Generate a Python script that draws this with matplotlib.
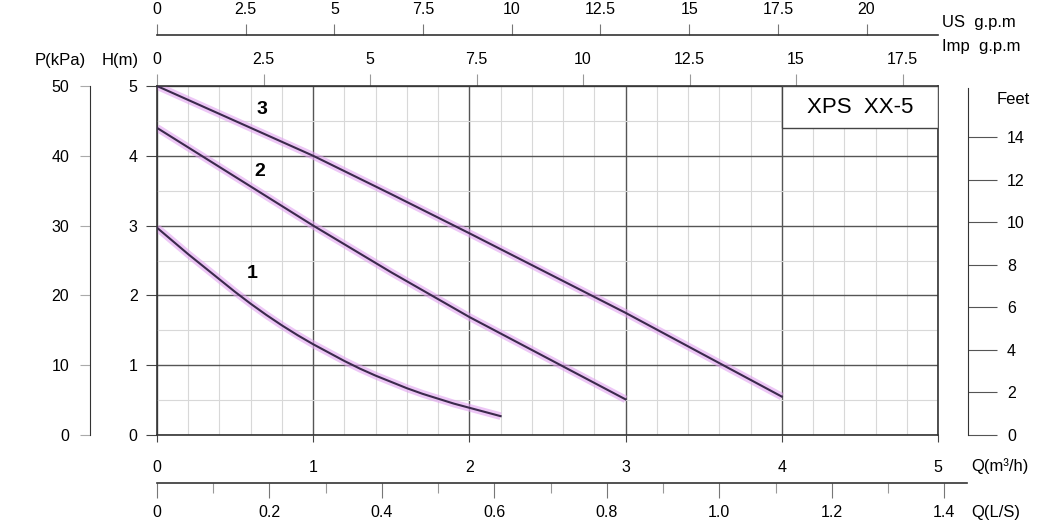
import matplotlib
matplotlib.use("Agg")
import matplotlib.pyplot as plt
import matplotlib.patches as patches
from matplotlib.ticker import MultipleLocator

plt.rcParams['font.family'] = ['Liberation Sans', 'DejaVu Sans']

# pump curves, Q in m3/h, H in m
q1 = [0, 0.1, 0.2, 0.3, 0.4, 0.5, 0.6, 0.7, 0.8, 0.9, 1.0, 1.1,
      1.2, 1.3, 1.4, 1.5, 1.6, 1.7, 1.8, 1.9, 2.0, 2.1, 2.2]
h1 = [2.97, 2.78, 2.59, 2.41, 2.23, 2.05, 1.88, 1.72, 1.57, 1.43, 1.30, 1.18,
      1.06, 0.95, 0.85, 0.76, 0.67, 0.59, 0.52, 0.45, 0.39, 0.33, 0.27]
q2 = [0, 0.5, 1.0, 1.5, 2.0, 2.5, 3.0]
h2 = [4.40, 3.70, 3.00, 2.33, 1.69, 1.10, 0.51]
q3 = [0, 0.5, 1.0, 1.5, 2.0, 2.5, 3.0, 3.5, 4.0]
h3 = [5.00, 4.50, 4.00, 3.45, 2.89, 2.32, 1.75, 1.15, 0.55]
curve_names = ['1', '2', '3']

# tick values of the extra scales
us_ticks = [0, 2.5, 5, 7.5, 10, 12.5, 15, 17.5, 20]
imp_ticks = [0, 2.5, 5, 7.5, 10, 12.5, 15, 17.5]
kpa_ticks = [0, 10, 20, 30, 40, 50]
feet_ticks = [0, 2, 4, 6, 8, 10, 12, 14]
ls_major = [0, 0.2, 0.4, 0.6, 0.8, 1.0, 1.2, 1.4]
ls_minor = [0.1, 0.3, 0.5, 0.7, 0.9, 1.1, 1.3]

US_PER_M3H = 4.403
IMP_PER_M3H = 3.666
LS_PER_M3H = 1 / 3.6
FT_PER_M = 3.281

W, H = 1060, 530
def fx(px): return px / W
def fy(py): return 1 - py / H

FS = 11.5
LINE = '#3b2a4c'
GLOW = '#e2a2f0'

fig = plt.figure(figsize=(10.6, 5.3), dpi=100)
fig.patch.set_facecolor('white')

# main chart area
X0, X1, Y0, Y1 = 157, 938, 435, 86
ax = fig.add_axes([fx(X0), fy(Y0), fx(X1) - fx(X0), fy(Y1) - fy(Y0)])
ax.set_xlim(0, 5)
ax.set_ylim(0, 5)
ax.xaxis.set_major_locator(MultipleLocator(1))
ax.xaxis.set_minor_locator(MultipleLocator(0.2))
ax.yaxis.set_major_locator(MultipleLocator(1))
ax.yaxis.set_minor_locator(MultipleLocator(0.5))
ax.grid(which='minor', color='#d8d8d8', lw=0.8, zorder=0)
ax.grid(which='major', color='#555555', lw=1.0, zorder=0)
ax.tick_params(which='minor', length=0)
ax.tick_params(axis='y', length=8, width=0.8, color='#444', pad=6, labelsize=FS)
ax.tick_params(axis='x', length=5, width=0.8, color='#444', pad=13, labelsize=FS)
for s in ax.spines.values():
    s.set_color('#333')
    s.set_linewidth(1.2)

for q, h in [(q1, h1), (q2, h2), (q3, h3)]:
    ax.plot(q, h, color=GLOW, lw=5.5, alpha=0.6, solid_capstyle='butt', zorder=2)
    ax.plot(q, h, color=LINE, lw=1.5, zorder=3)

label_pos = [(0.61, 2.32), (0.66, 3.78), (0.67, 4.66)]
for name, (lx, ly) in zip(curve_names, label_pos):
    ax.text(lx, ly, name, fontsize=14, fontweight='bold', ha='center', va='center', zorder=4)

box = patches.Rectangle((4, 4.4), 1, 0.6, facecolor='white', edgecolor='#444', lw=1.0, zorder=4)
ax.add_patch(box)
ax.text(4.5, 4.69, 'XPS  XX-5', fontsize=16, ha='center', va='center', zorder=5)

# Imp g.p.m on top spine
sec = ax.secondary_xaxis('top', functions=(lambda q: q * IMP_PER_M3H, lambda g: g / IMP_PER_M3H))
sec.set_xticks(imp_ticks, [f'{t:g}' for t in imp_ticks])
sec.tick_params(length=9, width=0.8, color='#999', pad=5, labelsize=FS)
sec.spines['top'].set_visible(False)

def bare(a):
    a.patch.set_visible(False)
    for s in a.spines.values():
        s.set_visible(False)

# US g.p.m scale
ax_us = fig.add_axes([fx(X0), fy(35), fx(X1) - fx(X0), 0.0001])
bare(ax_us)
ax_us.spines['top'].set_visible(True)
ax_us.spines['top'].set_color('#333')
ax_us.spines['top'].set_linewidth(1.2)
ax_us.set_xlim(0, 5 * US_PER_M3H)
ax_us.set_yticks([])
ax_us.xaxis.tick_top()
ax_us.set_xticks(us_ticks, [f'{t:g}' for t in us_ticks])
ax_us.tick_params(length=8, width=0.8, color='#777', pad=5, labelsize=FS)

# kPa scale
ax_p = fig.add_axes([fx(90), fy(Y0), 0.0001, fy(Y1) - fy(Y0)])
bare(ax_p)
ax_p.spines['left'].set_visible(True)
ax_p.spines['left'].set_color('#333')
ax_p.set_ylim(0, 50)
ax_p.set_xticks([])
ax_p.set_yticks(kpa_ticks)
ax_p.tick_params(length=7, width=0.8, color='#aaa', pad=8, labelsize=FS)

# Feet scale
ax_ft = fig.add_axes([fx(968) - 0.0001, fy(Y0), 0.0001, fy(88) - fy(Y0)])
bare(ax_ft)
ax_ft.spines['right'].set_visible(True)
ax_ft.spines['right'].set_color('#333')
ax_ft.set_ylim(0, 5 * FT_PER_M * (Y0 - 88) / (Y0 - Y1))
ax_ft.set_xticks([])
ax_ft.yaxis.tick_right()
ax_ft.set_yticks(feet_ticks)
ax_ft.tick_params(length=21, width=0.8, color='#555', pad=7, labelsize=FS)

# L/S scale
LS_END = 967
ax_ls = fig.add_axes([fx(X0), fy(483), fx(LS_END) - fx(X0), 0.0001])
bare(ax_ls)
ax_ls.spines['bottom'].set_visible(True)
ax_ls.spines['bottom'].set_color('#333')
ax_ls.spines['bottom'].set_linewidth(1.2)
ax_ls.set_xlim(0, 5 * LS_PER_M3H * (LS_END - X0) / (X1 - X0))
ax_ls.set_yticks([])
ax_ls.set_xticks(ls_major, [f'{t:.1f}' if t else '0' for t in ls_major])
ax_ls.set_xticks(ls_minor, minor=True)
ax_ls.tick_params(which='major', length=11, width=0.8, color='#777', pad=5, labelsize=FS)
ax_ls.tick_params(which='minor', length=7, width=0.8, color='#999')

# axis titles
TS = 12
fig.text(fx(60), fy(60), 'P(kPa)', fontsize=TS, ha='center', va='center')
fig.text(fx(120), fy(60), 'H(m)', fontsize=TS, ha='center', va='center')
fig.text(fx(942), fy(22), 'US  g.p.m', fontsize=TS, ha='left', va='center')
fig.text(fx(942), fy(47), 'Imp  g.p.m', fontsize=TS, ha='left', va='center')
fig.text(fx(1013), fy(99), 'Feet', fontsize=TS, ha='center', va='center')
fig.text(fx(971), fy(466), 'Q(m³/h)', fontsize=TS, ha='left', va='center')
fig.text(fx(971), fy(513), 'Q(L/S)', fontsize=TS, ha='left', va='center')

fig.savefig('out.png', dpi=100, facecolor='white')
